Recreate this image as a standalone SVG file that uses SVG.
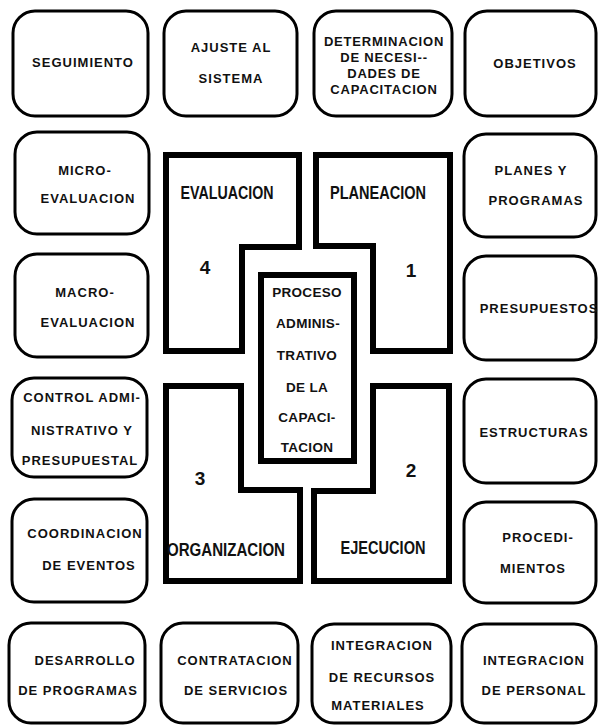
<svg xmlns="http://www.w3.org/2000/svg" width="598" height="725" viewBox="0 0 598 725">
<style>
.box{fill:none;stroke:#000;stroke-width:3}
.blk{fill:none;stroke:#000;stroke-width:6;stroke-linejoin:miter}
.t{font-family:"Liberation Sans",Arial,sans-serif;font-weight:bold;font-size:13px;letter-spacing:1px;text-anchor:middle;dominant-baseline:central;fill:#111}
.d{font-size:13px;letter-spacing:0.8px}
.c{font-size:13.5px;letter-spacing:0.3px}
.L{font-family:"Liberation Sans",Arial,sans-serif;font-weight:bold;font-size:19px;text-anchor:middle;dominant-baseline:central;fill:#111}
</style>
<rect width="598" height="725" fill="#fff"/>
<g id="seguimiento"><rect class="box" x="13" y="11" width="135" height="105" rx="22"/><text class="t" x="83" y="62">SEGUIMIENTO</text></g>
<g id="ajuste"><rect class="box" x="164" y="11" width="133" height="105" rx="22"/><text class="t" x="231" y="47">AJUSTE AL</text><text class="t" x="231" y="78">SISTEMA</text></g>
<g id="determinacion"><rect class="box" x="314" y="11" width="138" height="105" rx="22"/><text class="t d" x="384" y="41">DETERMINACION</text><text class="t d" x="384" y="57">DE NECESI--</text><text class="t d" x="384" y="73">DADES DE</text><text class="t d" x="384" y="89">CAPACITACION</text></g>
<g id="objetivos"><rect class="box" x="465" y="11" width="131" height="105" rx="22"/><text class="t" x="535" y="63">OBJETIVOS</text></g>

<g id="micro"><rect class="box" x="15" y="132" width="134" height="102" rx="22"/><text class="t" x="85" y="170">MICRO-</text><text class="t" x="88" y="198">EVALUACION</text></g>
<g id="macro"><rect class="box" x="15" y="254" width="133" height="103" rx="22"/><text class="t" x="85" y="292">MACRO-</text><text class="t" x="88" y="322">EVALUACION</text></g>
<g id="control"><rect class="box" x="12" y="378" width="135" height="99" rx="22"/><text class="t" x="82" y="397">CONTROL ADMI-</text><text class="t" x="82" y="430">NISTRATIVO Y</text><text class="t" x="80" y="460">PRESUPUESTAL</text></g>
<g id="coordinacion"><rect class="box" x="12" y="499" width="135" height="103" rx="22"/><text class="t" x="85" y="533">COORDINACION</text><text class="t" x="89" y="565">DE EVENTOS</text></g>
<g id="desarrollo"><rect class="box" x="9" y="623" width="136" height="100" rx="22"/><text class="t" x="85" y="660">DESARROLLO</text><text class="t" x="78" y="690">DE PROGRAMAS</text></g>
<g id="contratacion"><rect class="box" x="161" y="623" width="137" height="100" rx="22"/><text class="t" x="235" y="660">CONTRATACION</text><text class="t" x="236" y="690">DE SERVICIOS</text></g>
<g id="recursos"><rect class="box" x="312" y="624" width="139" height="99" rx="22"/><text class="t" x="382" y="645">INTEGRACION</text><text class="t" x="382" y="677">DE RECURSOS</text><text class="t" x="378" y="705">MATERIALES</text></g>
<g id="personal"><rect class="box" x="462" y="624" width="134" height="99" rx="22"/><text class="t" x="534" y="660">INTEGRACION</text><text class="t" x="534" y="690">DE PERSONAL</text></g>

<g id="planes"><rect class="box" x="464" y="134" width="132" height="103" rx="22"/><text class="t" x="531" y="170">PLANES Y</text><text class="t" x="536" y="200">PROGRAMAS</text></g>
<g id="presupuestos"><rect class="box" x="464" y="256" width="132" height="104" rx="22"/><text class="t" x="539" y="308">PRESUPUESTOS</text></g>
<g id="estructuras"><rect class="box" x="464" y="379" width="132" height="104" rx="22"/><text class="t" x="534" y="432">ESTRUCTURAS</text></g>
<g id="procedimientos"><rect class="box" x="464" y="502" width="132" height="101" rx="22"/><text class="t" x="538" y="537">PROCEDI-</text><text class="t" x="533" y="568">MIENTOS</text></g>

<g id="evaluacion"><path class="blk" d="M166,155 H299 V247 H242 V351 H166 Z"/><text class="L" x="227" y="192" textLength="93" lengthAdjust="spacingAndGlyphs">EVALUACION</text><text class="L" x="205" y="267">4</text></g>
<g id="planeacion"><path class="blk" d="M316,155 H450 V351 H373 V246 H316 Z"/><text class="L" x="378" y="192" textLength="96" lengthAdjust="spacingAndGlyphs">PLANEACION</text><text class="L" x="411" y="270">1</text></g>
<g id="organizacion"><path class="blk" d="M166,386 H241 V490 H300 V581 H166 Z"/><text class="L" x="226" y="549" textLength="118" lengthAdjust="spacingAndGlyphs">ORGANIZACION</text><text class="L" x="200" y="478">3</text></g>
<g id="ejecucion"><path class="blk" d="M373,386 H449 V581 H314 V491 H373 Z"/><text class="L" x="383" y="547" textLength="85" lengthAdjust="spacingAndGlyphs">EJECUCION</text><text class="L" x="411" y="470">2</text></g>
<g id="proceso"><rect class="blk" x="261" y="275" width="93" height="186"/><text class="t c" x="307" y="292">PROCESO</text><text class="t c" x="308" y="323">ADMINIS-</text><text class="t c" x="307" y="355">TRATIVO</text><text class="t c" x="307" y="387">DE LA</text><text class="t c" x="307" y="417">CAPACI-</text><text class="t c" x="307" y="447">TACION</text></g>
<g id="connectors"></g>
</svg>
